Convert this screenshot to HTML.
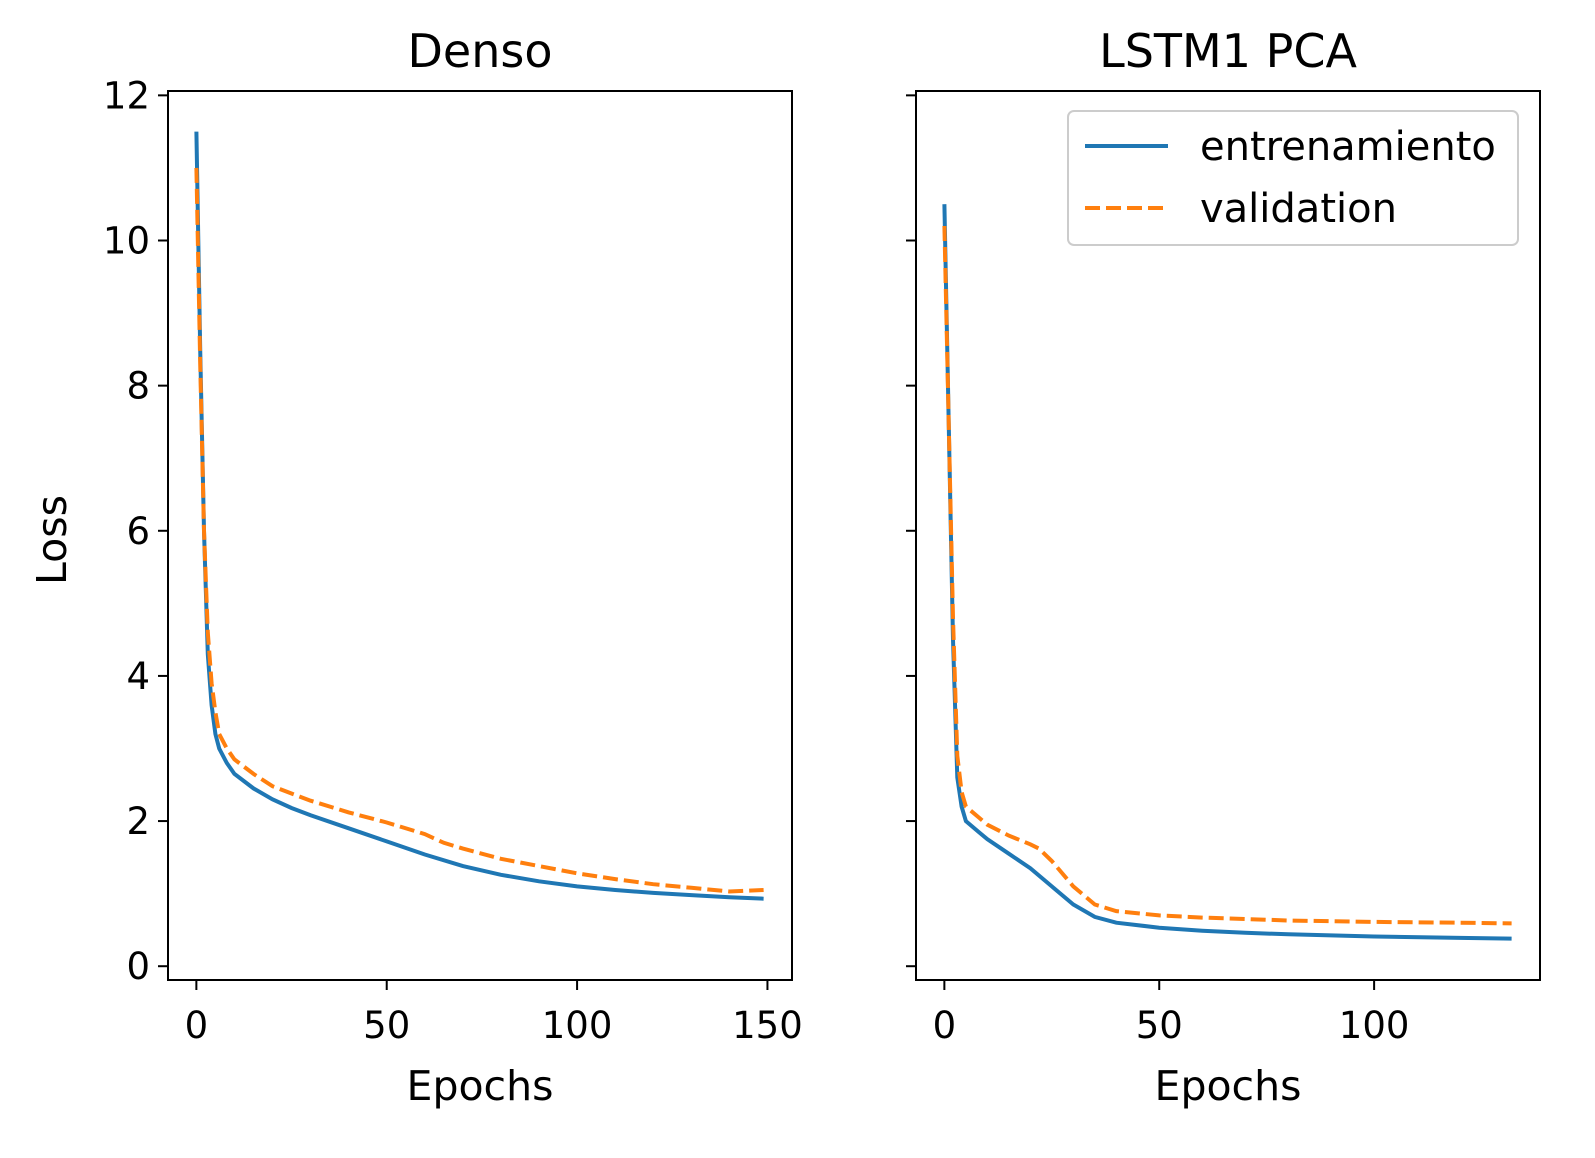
<!DOCTYPE html>
<html><head><meta charset="utf-8"><style>
body{margin:0;background:#fff}
svg{display:block;font-family:"DejaVu Sans","Liberation Sans",sans-serif}
</style></head><body>
<svg id="chart" width="1595" height="1158" viewBox="0 0 1595 1158"></svg>
<script>
const leftEpochs=[0,1,2,3,4,5,6,8,10,15,20,25,30,40,50,60,70,80,90,100,110,120,130,140,149];
const leftTrain=[11.5,8.5,6.0,4.3,3.6,3.2,3.0,2.8,2.65,2.45,2.3,2.18,2.08,1.9,1.72,1.54,1.38,1.26,1.17,1.1,1.05,1.01,0.98,0.95,0.93];
const leftValEpochs=[0,1,2,3,4,5,6,8,10,15,20,25,30,40,50,60,65,70,80,90,100,110,120,130,140,149];
const leftVal=[11.0,8.3,6.0,4.6,3.9,3.5,3.2,3.0,2.85,2.65,2.48,2.38,2.28,2.12,1.98,1.82,1.7,1.62,1.48,1.38,1.28,1.2,1.13,1.08,1.03,1.05];
const rightEpochs=[0,1,2,3,4,5,8,10,15,20,25,30,35,40,50,60,70,80,100,120,132];
const rightTrain=[10.5,7.5,4.5,2.6,2.2,2.0,1.85,1.75,1.55,1.35,1.1,0.85,0.68,0.6,0.53,0.49,0.46,0.44,0.41,0.39,0.38];
const rightValEpochs=[0,1,2,3,4,5,8,10,15,20,22,25,30,35,40,50,60,70,80,100,120,132];
const rightVal=[10.2,7.5,4.8,2.9,2.4,2.2,2.05,1.95,1.8,1.68,1.62,1.45,1.1,0.85,0.76,0.7,0.67,0.65,0.63,0.61,0.6,0.59];
const yTicks=[0,2,4,6,8,10,12];
const leftXTicks=[0,50,100,150];
const rightXTicks=[0,50,100];

const NS="http://www.w3.org/2000/svg";
const svg=document.getElementById('chart');
function mk(tag,attrs,parent){const e=document.createElementNS(NS,tag);for(const k in attrs)e.setAttribute(k,attrs[k]);(parent||svg).appendChild(e);return e;}
const yTop=91,yBot=980,yMin=-0.19,yMax=12.06;
const ys=v=>yBot-(v-yMin)/(yMax-yMin)*(yBot-yTop);

function panel(name,x0,x1,xmin,xmax,xticks,title,tr,trx,va,vax,showY){
  const g=mk('g',{});
  
  
  const xs=v=>x0+(v-xmin)/(xmax-xmin)*(x1-x0);
  const clip=mk('clipPath',{id:name+'-clip'},g);
  mk('rect',{x:x0,y:yTop,width:x1-x0,height:yBot-yTop},clip);
  const pts=(xa,ya)=>xa.map((x,i)=>xs(x).toFixed(1)+','+ys(ya[i]).toFixed(1)).join(' ');
  const l1=mk('polyline',{points:pts(trx,tr),fill:'none',stroke:'#1f77b4','stroke-width':4,'clip-path':`url(#${name}-clip)`},g);
  
  
  const l2=mk('polyline',{points:pts(vax,va),fill:'none',stroke:'#ff7f0e','stroke-width':4,'stroke-dasharray':'15 6','clip-path':`url(#${name}-clip)`},g);
  
  
  mk('rect',{x:x0,y:yTop,width:x1-x0,height:yBot-yTop,fill:'none',stroke:'#000','stroke-width':2},g);
  yTicks.forEach(t=>{
    const y=ys(t);
    mk('line',{x1:x0,x2:x0-10,y1:y,y2:y,stroke:'#000','stroke-width':2},g);
    if(showY){const tx=mk('text',{x:x0-18,y:y+13,'text-anchor':'end','font-size':37},g);tx.textContent=t;
      
      }
  });
  xticks.forEach(t=>{
    const x=xs(t);
    mk('line',{x1:x,x2:x,y1:yBot,y2:yBot+10,stroke:'#000','stroke-width':2},g);
    const tx=mk('text',{x:x,y:yBot+58,'text-anchor':'middle','font-size':37},g);tx.textContent=t;
    
    
  });
  const tt=mk('text',{x:(x0+x1)/2,y:67,'text-anchor':'middle','font-size':46},g);tt.textContent=title;
  
  
  const xl=mk('text',{x:(x0+x1)/2,y:1100,'text-anchor':'middle','font-size':41},g);xl.textContent='Epochs';
  
  
}
panel('denso-panel',168,792,-7.45,156.45,leftXTicks,'Denso',leftTrain,leftEpochs,leftVal,leftValEpochs,true);
panel('lstm-panel',916,1540,-6.6,138.6,rightXTicks,'LSTM1 PCA',rightTrain,rightEpochs,rightVal,rightValEpochs,false);
const yl=mk('text',{x:0,y:0,'text-anchor':'middle','font-size':41,transform:'translate(66,540) rotate(-90)'});
yl.textContent='Loss';


const lg=mk('g',{});


mk('rect',{x:1068,y:111,width:450,height:134,rx:6,fill:'#fff',stroke:'#ccc','stroke-width':2},lg);
mk('line',{x1:1085,x2:1168,y1:146,y2:146,stroke:'#1f77b4','stroke-width':4},lg);
mk('line',{x1:1085,x2:1168,y1:208,y2:208,stroke:'#ff7f0e','stroke-width':4,'stroke-dasharray':'15 6'},lg);
const t1=mk('text',{x:1200,y:160,'font-size':40},lg);t1.textContent='entrenamiento';


const t2=mk('text',{x:1200,y:222,'font-size':40},lg);t2.textContent='validation';


</script>
</body></html>
